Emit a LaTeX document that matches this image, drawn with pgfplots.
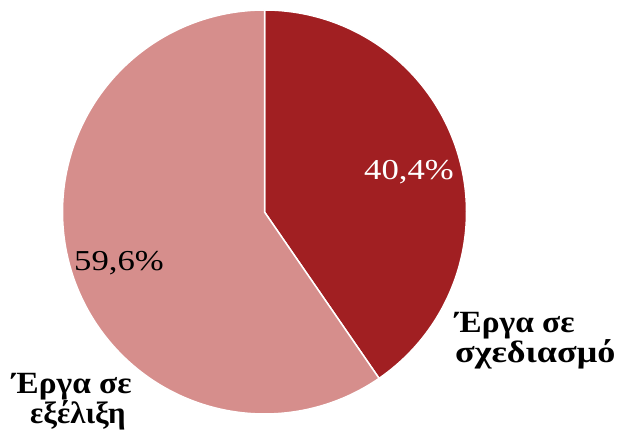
\documentclass[border=0pt]{standalone}
\usepackage{fontspec}
\setmainfont{Liberation Serif}
\newfontfamily\widefont[FakeStretch=1.2]{Liberation Serif}
\newfontfamily\labfont[FakeStretch=1.17]{Liberation Serif}
\newfontfamily\labfontb[FakeStretch=1.08]{Liberation Serif}
\newfontfamily\labfontc[FakeStretch=1.0]{Liberation Serif}
\usepackage{pgfplots}
\pgfplotsset{compat=1.18}
\definecolor{darkred}{RGB}{161,31,34}
\definecolor{pinkred}{RGB}{214,142,140}
\begin{document}
\begin{tikzpicture}
% shares of the two slices (per cent)
\pgfmathsetmacro{\va}{40.4}
\pgfmathsetmacro{\vb}{59.6}
\pgfmathsetmacro{\aend}{90-3.6*\va}
\pgfmathsetmacro{\bend}{90+3.6*\vb}
\begin{axis}[width=618bp,height=431bp,scale only axis,hide axis,
  xmin=0,xmax=618,ymin=0,ymax=431,clip=false]
\addplot[fill=darkred, draw=white, line width=1.5bp, domain=\aend:90, samples=150, variable=\t]
  ({264.5+202*cos(\t)},{219+202*sin(\t)}) -- (axis cs:264.5,219) -- cycle;
\addplot[fill=pinkred, draw=white, line width=1.5bp, domain=90:\bend, samples=200, variable=\t]
  ({264.5+202*cos(\t)},{219+202*sin(\t)}) -- (axis cs:264.5,219) -- cycle;
\node[text=white, font=\widefont\fontsize{29}{32}\selectfont] at (axis cs:409,259) {40,4\%};
\node[text=black, font=\widefont\fontsize{29}{32}\selectfont] at (axis cs:119,168) {59,6\%};
\node[font=\labfontb\bfseries\fontsize{31}{31}\selectfont, anchor=base west, inner sep=0pt]
  at (axis cs:455,98) {Έργα σε};
\node[font=\labfont\bfseries\fontsize{31}{31}\selectfont, anchor=base west, inner sep=0pt]
  at (axis cs:455,68) {σχεδιασμό};
\node[font=\labfontb\bfseries\fontsize{31}{31}\selectfont, anchor=base west, inner sep=0pt]
  at (axis cs:12,37) {Έργα σε};
\node[font=\labfontc\bfseries\fontsize{31}{31}\selectfont, anchor=base west, inner sep=0pt]
  at (axis cs:30,7) {εξέλιξη};
\end{axis}
\pgfresetboundingbox
\path (current axis.south west) rectangle (current axis.north east);
\end{tikzpicture}
\end{document}
